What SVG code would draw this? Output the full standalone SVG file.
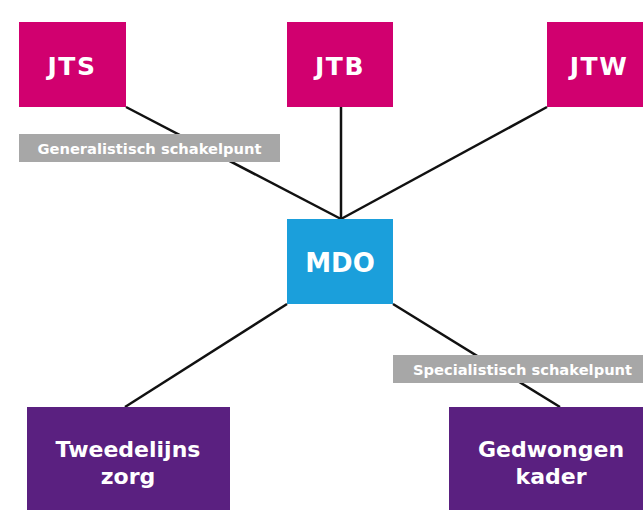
<svg xmlns="http://www.w3.org/2000/svg" width="643" height="510" viewBox="0 0 643 510">
<style>
.jt{fill:#d1006f}
.mdo{fill:#1b9fdb}
.pur{fill:#5a2080}
.lbl{fill:#a7a7a7}
.t{font-family:"DejaVu Sans",Verdana,sans-serif;font-weight:bold;fill:#ffffff;text-anchor:middle}
.big{font-size:25px;letter-spacing:1.5px}
.mid{font-size:22px}
.sm{font-size:14.7px}
.ln{stroke:#111111;stroke-width:2.5;fill:none}
</style>
<rect width="643" height="510" fill="#ffffff"/>
<g id="connectors">
<line class="ln" x1="126" y1="107" x2="341" y2="219"/>
<line class="ln" x1="341" y1="107" x2="341" y2="219"/>
<line class="ln" x1="547" y1="107" x2="341" y2="219"/>
<line class="ln" x1="287" y1="304" x2="125" y2="407"/>
<line class="ln" x1="393" y1="304" x2="560" y2="407"/>
</g>
<g id="JTS"><rect class="jt" x="19" y="22" width="107" height="85"/><text class="t big" x="72" y="75">JTS</text></g>
<g id="JTB"><rect class="jt" x="287" y="22" width="106" height="85"/><text class="t big" x="340" y="75">JTB</text></g>
<g id="JTW"><rect class="jt" x="547" y="22" width="103" height="85"/><text class="t big" x="599" y="75">JTW</text></g>
<g id="MDO"><rect class="mdo" x="287" y="219" width="106" height="85"/><text class="t" style="font-size:26px" x="340" y="272">MDO</text></g>
<g id="Tweedelijns"><rect class="pur" x="27" y="407" width="203" height="110"/><text class="t mid" x="128" y="457">Tweedelijns</text><text class="t mid" x="128" y="484">zorg</text></g>
<g id="Gedwongen"><rect class="pur" x="449" y="407" width="205" height="110"/><text class="t mid" x="551" y="457">Gedwongen</text><text class="t mid" x="551" y="484">kader</text></g>
<g id="label-generalistisch"><rect class="lbl" x="19" y="134" width="261" height="28"/><text class="t sm" x="149.5" y="154">Generalistisch schakelpunt</text></g>
<g id="label-specialistisch"><rect class="lbl" x="393" y="355" width="260" height="28"/><text class="t sm" x="522.5" y="375">Specialistisch schakelpunt</text></g>
</svg>
